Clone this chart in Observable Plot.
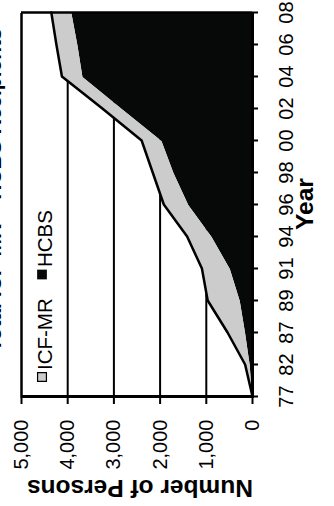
<!DOCTYPE html>
<html>
<head>
<meta charset="utf-8">
<script src="https://cdn.jsdelivr.net/npm/d3@7"></script>
<script src="https://cdn.jsdelivr.net/npm/@observablehq/plot@0.6"></script>
<style>
  html, body { margin: 0; padding: 0; background: #fff; overflow: hidden; width: 334px; height: 506px; }
  #wrap { position: absolute; left: 0; top: 0; width: 506px; height: 334px;
          transform-origin: 0 0; transform: translate(0, 506px) rotate(-90deg); }
  #wrap svg { display: block; }
  #wrap svg g[aria-label="x-axis"] line, #wrap svg g[aria-label="y-axis"] line,
  #wrap svg g[aria-label="x-axis tick"] path, #wrap svg g[aria-label="y-axis tick"] path {
    stroke: #000; stroke-width: 2px;
  }
</style>
</head>
<body>
<div id="wrap"></div>
<script>
// ---- data ----
const years = ["77","82","87","89","91","94","96","98","00","02","04","06","08"];
const hcbs  = [0, 50, 150, 265, 480, 875, 1380, 1700, 1960, 2820, 3670, 3780, 3910];
const icfmr = [0, 110, 390, 705, 615, 540, 540, 460, 440, 430, 455, 465, 445];
const seriesNames = ["HCBS", "ICF-MR"];
const yTicks = [0, 1000, 2000, 3000, 4000, 5000];
const gridValues = [1000, 2000, 3000, 4000];
const titleText = "Total ICF-MR + HCBS Recipients";
const xLabel = "Year";
const yLabel = "Number of Persons";

const BLACK = "#070909";
const GRAY = "#cccccc";
const FONT = "'Liberation Sans', Arial, Helvetica, sans-serif";

const rows = [];
years.forEach((y, i) => rows.push({year: y, series: "HCBS", value: hcbs[i]}));
years.forEach((y, i) => rows.push({year: y, series: "ICF-MR", value: icfmr[i]}));

const chart = Plot.plot({
  width: 506,
  height: 334,
  marginLeft: 108,
  marginRight: 13,
  marginTop: 21,
  marginBottom: 82,
  style: {fontFamily: FONT, fontSize: "20px", color: "#000", background: "transparent"},
  x: {type: "point", domain: years, padding: 0, label: null, tickSize: 6, tickPadding: 20},
  y: {domain: [0, 5000], ticks: yTicks, tickFormat: d3.format(","), label: null, tickSize: 6, tickPadding: 16},
  color: {domain: seriesNames, range: [BLACK, GRAY]},
  marks: [
    Plot.ruleY(gridValues, {stroke: "#000", strokeWidth: 2}),
    Plot.areaY(rows, {x: "year", y: "value", z: "series", fill: "series", order: seriesNames}),
    Plot.lineY(rows, Plot.filter(d => d.series === "ICF-MR",
      Plot.stackY2({x: "year", y: "value", z: "series", order: seriesNames, stroke: "#000", strokeWidth: 2.5}))),
    Plot.ruleY([yTicks[yTicks.length - 1]], {stroke: "#000", strokeWidth: 2.5}),
    Plot.ruleX([years[years.length - 1]], {stroke: "#000", strokeWidth: 2.5}),
    Plot.ruleY([0], {stroke: "#000", strokeWidth: 3}),
    Plot.ruleX([years[0]], {stroke: "#000", strokeWidth: 3}),
    // legend swatches
    Plot.dot([seriesNames[1]], {frameAnchor: "top-left", dx: 20.5, dy: 20.5, symbol: "square", r: 5, fill: GRAY, stroke: "#000", strokeWidth: 1.2}),
    Plot.dot([seriesNames[0]], {frameAnchor: "top-left", dx: 123, dy: 20.5, symbol: "square", r: 5.5, fill: BLACK})
  ]
});

// text labels (title is mostly cut off at the edge, as in the reference)
const svg = d3.select(chart);
const addText = (txt, x, y, opts) => {
  const t = svg.append("text")
    .attr("x", x).attr("y", y)
    .attr("font-family", FONT)
    .attr("font-size", opts.size)
    .attr("font-weight", opts.weight || "normal")
    .attr("text-anchor", opts.anchor || "middle")
    .attr("fill", "#000")
    .text(txt);
  if (opts.rotate) t.attr("transform", `rotate(${opts.rotate} ${x} ${y})`);
  return t;
};
addText(seriesNames[1], 136, 51.5, {size: 20.5, anchor: "start"});
addText(seriesNames[0], 239, 51.5, {size: 20.5, anchor: "start"});
addText(xLabel, 302, 313, {size: 24.5, weight: "bold"});
addText(yLabel, 26, 140, {size: 24.5, weight: "bold", rotate: -90});
addText(titleText, 316, 0.8, {size: 21, weight: "bold"});

document.getElementById("wrap").appendChild(chart);
</script>
</body>
</html>
